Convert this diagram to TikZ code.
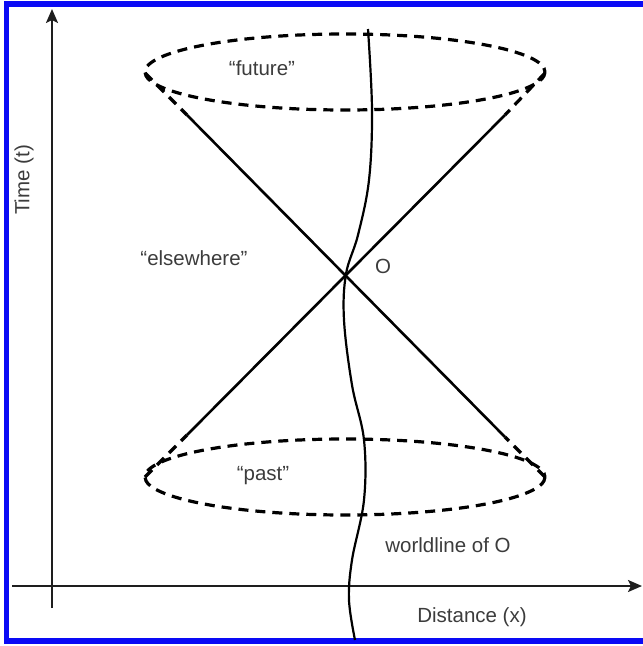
\documentclass[tikz,border=0pt]{standalone}
\usepackage{fontspec}
\setmainfont{Liberation Sans}
\usetikzlibrary{arrows.meta}
\definecolor{txtgray}{HTML}{3C3C3C}
\definecolor{linegray}{HTML}{1E1E1E}
\definecolor{frameblue}{HTML}{0A0AF5}
\begin{document}
\begin{tikzpicture}[x=1pt,y=-1pt,
  axis/.style={line width=2.2pt,draw=linegray,-{Stealth[length=14pt,width=12pt,inset=3pt]}},
  cone/.style={line width=2.6pt,draw=black},
  hidden/.style={line width=3.2pt,draw=black,dash pattern=on 10pt off 7pt},
  world/.style={line width=2.2pt,draw=black},
  lbl/.style={text=txtgray,font=\fontsize{20.5}{24}\selectfont,inner sep=0pt}]
\useasboundingbox (0,0) rectangle (643,646);
% blue frame (no right side)
\fill[frameblue] (4,1) rectangle (643,7);
\fill[frameblue] (4,1) rectangle (9,644);
\fill[frameblue] (4,638) rectangle (643,644);
% axes
\coordinate (xs) at (12,586);
\coordinate (xe) at (642,586);
\coordinate (ys) at (52,608);
\coordinate (ye) at (52,9);
\draw[axis] (xs) -- (xe);
\draw[axis] (ys) -- (ye);
% cone
\coordinate (O) at (346,274);
\coordinate (ful) at (145,73);
\coordinate (fur) at (545,73);
\coordinate (pal) at (145,477);
\coordinate (par) at (545,477);
\coordinate (a1) at (187,115);
\coordinate (a2) at (505,115);
\coordinate (b1) at (187,435);
\coordinate (b2) at (505,437);
\draw[cone] (a1) -- (b2);
\draw[cone] (a2) -- (b1);
\draw[hidden] (ful) -- (a1);
\draw[hidden] (fur) -- (a2);
\draw[hidden] (pal) -- (b1);
\draw[hidden] (par) -- (b2);
\draw[hidden] (345,72) ellipse [x radius=200, y radius=38];
\draw[hidden] (345,477) ellipse [x radius=200, y radius=38];
% worldline
\draw[world] plot[smooth,tension=0.6] coordinates {(368,29) (372,110) (369,180) (358,235) (O) (344,320) (352,385) (364,440) (364,500) (352,560) (349,600) (355,640)};
% labels
\node[lbl] (fut) at (262,68) {“future”};
\node[lbl] (pst) at (263,476) {“past”};
\node[lbl] (els) at (194,258) {“elsewhere”};
\node[lbl] (olab) at (383,266) {O};
\node[lbl] (wl) at (448,545) {worldline of O};
\node[lbl] (dist) at (472,617) {Distance (x)};
\node[lbl,rotate=90] (time) at (24,180) {Time (t)};
\end{tikzpicture}
\end{document}
